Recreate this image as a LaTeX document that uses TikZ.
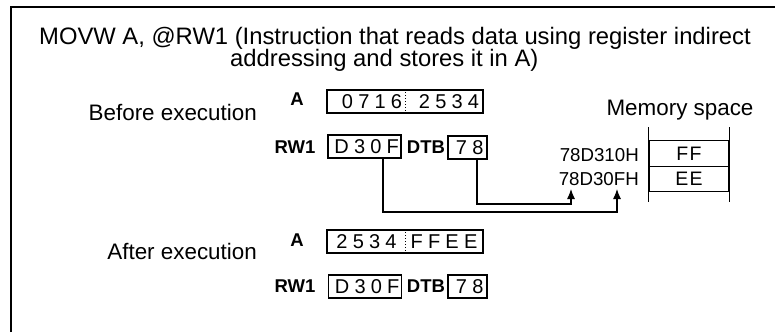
\documentclass[tikz,border=0pt]{standalone}
\usepackage{fontspec}
\setmainfont{Liberation Sans}
\newfontfamily\regfont[LetterSpace=26]{Liberation Sans}
\usetikzlibrary{arrows.meta}
\newcommand{\titlesize}{\fontsize{23.8}{26}\selectfont}
\newcommand{\labelsize}{\fontsize{22.4}{26}\selectfont}
\newcommand{\regsize}{\fontsize{20}{22}\selectfont\regfont}
\newcommand{\namesize}{\fontsize{18.5}{19}\selectfont\bfseries}
\newcommand{\addrsize}{\fontsize{18.7}{20}\selectfont}
\newcommand{\memsize}{\fontsize{19.5}{20}\selectfont}

\tikzset{
  regbox/.style={draw, line width=1.1pt, minimum height=23pt,
    label={[font=\regsize, xshift=2.2pt]center:#1}},
  regtext/.style={font=\regsize},
  regname/.style={font=\namesize},
  memcell/.style={draw, line width=1.1pt, minimum width=80pt, minimum height=25.5pt, font=\memsize},
  conn/.style={line width=1.1pt, -{Latex[length=10pt,width=8pt]}}
}

\begin{document}
\begin{tikzpicture}[x=1pt,y=-1pt]
\tikzstyle{every node}=[inner sep=0pt]
\useasboundingbox (0,0) rectangle (775,332);
\draw[line width=2.6pt] (11,332) -- (11,7) -- (775,7);

% title
\node[anchor=base west, font=\titlesize] (t1) at (39,44)
  {MOVW A, @RW1 (Instruction that reads data using register indirect};
\node[anchor=base west, font=\titlesize] (t2) at (230,66)
  {addressing and stores it in A)};

% before execution
\node[anchor=east, font=\labelsize] (before) at (257,112) {Before execution};
\node[regname] (aname) at (297,99) {A};
\node[regbox={}, minimum width=156pt] (abox) at (405,101.5) {};
\node[regtext] (ahi) at (372,101.5) {0716};
\node[regtext] (alo) at (449,101.5) {2534};
\draw[dotted, line width=1pt] (abox.north) -- (abox.south);
\node[regname] (rwname) at (295,147) {RW1};
\node[regbox={D30F}, minimum width=73pt] (rwbox) at (364.5,146.5) {};
\node[regname] (dtbname) at (426,147) {DTB};
\node[regbox={78}, minimum width=39pt] (dtbbox) at (467.5,147.5) {};

% memory
\node[font=\labelsize] (mem) at (680,110) {Memory space};
\node[memcell] (ff) at (689,153.5) {F\kern1.5pt F};
\node[memcell] (ee) at (689,179) {E\kern1.5pt E};
\draw[line width=1.1pt] ([yshift=13pt]ff.north west) -- ([yshift=-10pt]ee.south west);
\draw[line width=1.1pt] ([yshift=13pt]ff.north east) -- ([yshift=-10pt]ee.south east);
\node[anchor=east, font=\addrsize] (adhi) at (639,155) {78D310H};
\node[anchor=east, font=\addrsize] (adlo) at (639,179) {78D30FH};
\coordinate (tip1) at (571,189);
\coordinate (tip2) at (617,189);
\draw[conn] ([xshift=9.5pt]dtbbox.south) |- ([yshift=-15pt]tip1) -- (tip1);
\draw[conn] ([xshift=18.5pt]rwbox.south) |- ([yshift=-23pt]tip2) -- (tip2);

% after execution
\node[anchor=east, font=\labelsize] (after) at (257,251) {After execution};
\node[regname] (aname2) at (297,240) {A};
\node[regbox={}, minimum width=156pt] (abox2) at (405,241.5) {};
\node[regtext] (ahi2) at (366.5,241.5) {2534};
\node[regtext] (alo2) at (444,241.5) {FFEE};
\draw[dotted, line width=1pt] (abox2.north) -- (abox2.south);
\node[regname] (rwname2) at (295,286) {RW1};
\node[regbox={D30F}, minimum width=73pt] (rwbox2) at (365,286.5) {};
\node[regname] (dtbname2) at (426,286) {DTB};
\node[regbox={78}, minimum width=39pt] (dtbbox2) at (467.5,286.5) {};
\end{tikzpicture}
\end{document}
